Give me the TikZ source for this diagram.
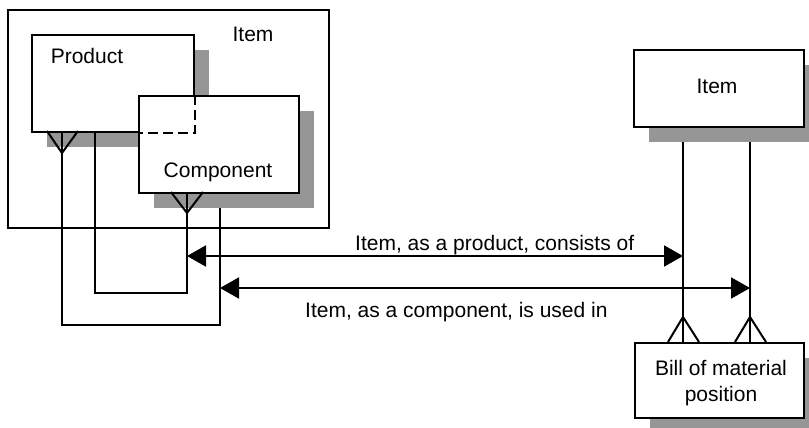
\documentclass[tikz,border=0pt]{standalone}
\usepackage{fontspec}
\setmainfont{Liberation Sans}
\usetikzlibrary{arrows.meta}
\definecolor{shade}{RGB}{150,150,150}
\begin{document}
\begin{tikzpicture}[x=1pt,y=-1pt,
  ent/.style={draw,fill=white,line width=2pt,inner sep=0pt,anchor=north west},
  shd/.style={fill=shade,draw=none,inner sep=0pt,anchor=north west},
  lnk/.style={line width=2pt},
  txt/.style={font=\fontsize{21}{26}\selectfont,inner sep=0pt},
  arr/.style={line width=2pt,{Triangle[length=19pt,width=21pt]}-{Triangle[length=19pt,width=21pt]}}]
\useasboundingbox (0,0) rectangle (809,428);
\clip (0,0) rectangle (809,428);
\fill[white] (0,0) rectangle (809,428);
% outer Item box
\node[ent,minimum width=321pt,minimum height=218pt] (outer) at (7,9) {};
% Product
\node[shd,minimum width=162pt,minimum height=97pt] (prodshd) at (47,50) {};
\node[ent,minimum width=162pt,minimum height=97pt] (prod) at (31,34) {};
% Component
\node[shd,minimum width=160pt,minimum height=97pt] (compshd) at (154,111) {};
\node[ent,minimum width=160pt,minimum height=97pt] (comp) at (138,95) {};
% hidden edges of Product
\draw[lnk,dash pattern=on 10pt off 5pt] (prod.east |- comp.north) -- (prod.south east) -- (prod.south -| comp.west);
% right Item
\node[shd,minimum width=170pt,minimum height=77pt] (itemshd) at (649,65) {};
\node[ent,minimum width=170pt,minimum height=77pt] (item) at (633,49) {};
% Bill of material position
\node[shd,minimum width=169pt,minimum height=75pt] (bomshd) at (650,358) {};
\node[ent,minimum width=169pt,minimum height=75pt] (bom) at (634,342) {};
% connection points
\coordinate (pA) at (62,131);
\coordinate (pB) at (95,131);
\coordinate (cA) at (187,192);
\coordinate (cB) at (220,208);
\coordinate (iA) at (683,142);
\coordinate (iB) at (750,142);
\coordinate (bA) at (683,342);
\coordinate (bB) at (750,342);
\coordinate (kA) at (187,256);
\coordinate (kB) at (220,288);
\coordinate (jA) at (683,256);
\coordinate (jB) at (750,288);
% left relationship lines
\draw[lnk] (pA) -- (62,325) -- (220,325) -- (cB);
\draw[lnk] (pB) -- (95,293) -- (187,293) -- (cA);
% crow's feet left
\draw[lnk] ([xshift=-15pt]pA) -- ([yshift=-22pt]pA) -- ([xshift=16pt]pA);
\draw[lnk] ([xshift=-16pt]cA) -- ([yshift=-21pt]cA) -- ([xshift=16pt]cA);
% right vertical lines
\draw[lnk] (iA) -- (bA);
\draw[lnk] (iB) -- (bB);
% crow's feet on bill
\draw[lnk] ([xshift=-15pt]bA) -- ([yshift=25pt]bA) -- ([xshift=16pt]bA);
\draw[lnk] ([xshift=-15pt]bB) -- ([yshift=25pt]bB) -- ([xshift=16pt]bB);
% arrows
\draw[arr] (kA) -- (jA);
\draw[arr] (kB) -- (jB);
% texts
\node[txt,anchor=base] (tOuter) at (253,42) {Item};
\node[txt,anchor=base] (tProd) at (87,64) {Product};
\node[txt,anchor=base] (tComp) at (218,177) {Component};
\node[txt,anchor=base] (tItem) at (717,93) {Item};
\node[txt,anchor=base,align=center] (tBom) at (721,401) {Bill of material\\position};
\node[txt,anchor=base west] (lab1) at (355,250) {Item, as a product, consists of};
\node[txt,anchor=base west] (lab2) at (305,317) {Item, as a component, is used in};
\end{tikzpicture}
\end{document}
